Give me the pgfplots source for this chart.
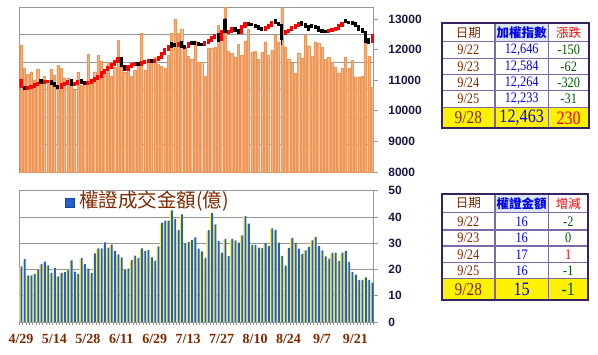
\documentclass[border=0pt]{standalone}
\usepackage{fontspec}
\setmainfont{Liberation Serif}
\setsansfont{Liberation Sans}
\newfontfamily\cjk{Noto Sans CJK TC}
\newfontfamily\narrowserif[FakeStretch=0.85]{Liberation Serif}
\usepackage{pgfplots}
\usepackage{pgfplotstable}
\pgfplotsset{compat=1.18}

\definecolor{barorange}{RGB}{246,178,122}
\definecolor{barorangeE}{RGB}{236,150,92}
\definecolor{wblue}{RGB}{35,95,205}
\definecolor{wyellow}{RGB}{250,240,90}
\definecolor{tbrown}{RGB}{128,40,0}
\definecolor{tnavy}{RGB}{25,25,70}
\definecolor{gridgray}{RGB}{150,150,150}
\definecolor{tblue}{RGB}{0,0,235}
\definecolor{tgreen}{RGB}{0,90,0}
\definecolor{hdrblue}{RGB}{218,230,245}
\definecolor{tborder}{RGB}{55,35,95}
\definecolor{tinner}{RGB}{125,105,165}

% top panel: market volume (hidden left scale)
\pgfplotstableread{
i v
0 2309
1 1896
2 1782
3 1824
4 1673
5 1873
6 1673
7 1745
8 1673
9 1873
10 1764
11 1940
12 1885
13 1715
14 1715
15 1642
16 1491
17 1818
18 1582
19 1612
20 2145
21 1612
22 1824
23 2127
24 2024
25 1806
26 1994
27 1745
28 1915
29 2400
30 1946
31 1824
32 1855
33 1745
34 1855
35 1976
36 2521
37 1855
38 2036
39 2048
40 2085
41 1964
42 1927
43 1885
44 2121
45 2521
46 2776
47 2521
48 2594
49 2279
50 2109
51 2048
52 2388
53 1994
54 1994
55 1745
56 2261
57 2261
58 2279
59 2673
60 2552
61 2990
62 2200
63 2158
64 2097
65 2321
66 2127
67 2388
68 2594
69 2176
70 2200
71 2055
72 2176
73 2370
74 2127
75 2218
76 2491
77 2370
78 2990
79 2279
80 2048
81 1988
82 1800
83 2170
84 2073
85 2491
86 2296
87 2115
88 2370
89 2339
90 2266
91 2048
92 2085
93 1994
94 1915
95 1806
96 1885
97 2085
98 1885
99 2036
100 1734
101 1734
102 1745
103 2339
104 2109
105 1539
}\vol

% index candles: rising days
\pgfplotstableread{
i o c
0 10790 11000
2 10730 10770
3 10770 10800
4 10800 10850
5 10850 10900
7 10920 10950
8 10950 10965
12 10760 10850
13 10850 10900
14 10900 10960
16 10850 10900
17 10900 10970
20 10880 10930
21 10930 11000
22 11000 11060
23 11060 11130
24 11130 11240
25 11240 11330
26 11330 11420
27 11420 11500
28 11500 11600
29 11600 11700
32 11330 11440
33 11440 11500
34 11500 11540
36 11520 11570
37 11570 11600
38 11600 11640
40 11600 11660
41 11660 11750
42 11750 11880
43 11880 12000
44 12000 12120
47 12130 12200
50 12100 12200
55 12150 12220
56 12220 12290
57 12290 12400
58 12400 12470
60 12320 12590
62 12540 12600
63 12600 12700
66 12560 12750
67 12750 12860
73 12660 12720
74 12720 12790
75 12790 12880
79 12530 12590
80 12590 12640
81 12640 12710
82 12710 12790
83 12790 12860
92 12580 12620
93 12620 12660
94 12660 12700
95 12700 12780
96 12780 12850
105 12260 12463
}\up

% index candles: falling days
\pgfplotstableread{
i o c
1 10770 10730
6 10990 10920
9 10950 10880
10 10880 10830
11 10790 10750
15 10980 10850
18 10990 10920
19 10930 10880
30 11720 11480
31 11450 11330
35 11560 11520
39 11660 11600
45 12200 12100
46 12160 12130
48 12230 12080
49 12100 12060
51 12220 12180
52 12230 12190
53 12190 12170
54 12170 12150
59 12500 12300
61 12940 12590
64 12700 12620
65 12620 12540
68 12870 12830
69 12830 12800
70 12800 12760
71 12760 12700
72 12700 12660
76 12940 12870
77 12870 12800
78 12800 12370
84 12880 12830
85 12830 12760
86 12760 12650
87 12780 12740
88 12760 12730
89 12730 12630
90 12630 12600
91 12610 12580
97 12960 12900
98 12900 12870
99 12880 12850
100 12850 12796
101 12760 12646
102 12650 12584
103 12560 12264
104 12330 12233
}\dn

% wicks (low, high)
\pgfplotstableread{
i lo hi
30 11460 11760
61 12560 13040
78 12150 12840
103 12200 12590
}\wick

% bottom panel: warrant turnover (100 million)
\pgfplotstableread{
i w
0 21.2
1 23.9
2 17.8
3 17.8
4 18.3
5 20.0
6 22.0
7 23.0
8 21.6
9 18.7
10 20.6
11 17.4
12 18.7
13 19.0
14 19.8
15 23.5
16 19.2
17 18.2
18 24.4
19 22.0
20 20.3
21 18.7
22 26.1
23 28.0
24 28.0
25 30.3
26 28.3
27 29.5
28 27.1
29 25.8
30 24.6
31 19.8
32 20.3
33 23.6
34 25.3
35 24.4
36 28.0
37 27.0
38 27.4
39 24.6
40 23.4
41 28.8
42 37.8
43 38.6
44 38.6
45 42.5
46 39.4
47 35.0
48 41.0
49 29.9
50 30.4
51 31.3
52 32.2
53 27.9
54 26.9
55 24.4
56 35.0
57 41.5
58 37.2
59 30.8
60 26.4
61 31.7
62 25.1
63 31.7
64 31.1
65 30.2
66 33.0
67 40.3
68 37.5
69 29.4
70 29.4
71 28.3
72 28.2
73 30.1
74 28.9
75 35.7
76 35.1
77 30.2
78 25.2
79 21.5
80 28.2
81 31.9
82 30.1
83 27.9
84 25.9
85 27.3
86 28.6
87 31.1
88 32.4
89 28.9
90 27.3
91 25.0
92 24.1
93 26.4
94 26.4
95 23.2
96 26.4
97 27.0
98 22.8
99 19.1
100 18.0
101 16.0
102 16.0
103 17.0
104 16.0
105 15.0
}\war

\pgfplotsset{
  panel/.style={
    scale only axis, width=354.5pt,
    xmin=-0.5, xmax=105.5,
    axis line style={gridgray, line width=0.9pt},
    grid style={gridgray, line width=0.9pt},
    scaled ticks=false,
    /pgf/number format/assume math mode=true,
    /pgf/number format/1000 sep={},
  },
  rlabels/.style={
    yticklabel style={font=\sffamily\bfseries\fontsize{12}{14}\selectfont, text=tnavy, anchor=west, xshift=7pt},
  },
}

\begin{document}
\begin{tikzpicture}[x=1pt,y=1pt]
\useasboundingbox (0,-354) rectangle (598,0);

% ---------- top panel: volume bars ----------
\begin{axis}[panel,
  at={(19.3pt,-172pt)}, anchor=south west, height=165pt,
  ymin=0, ymax=3000,
  xtick=\empty, ytick={500,1000,...,2500}, yticklabels={},
  major tick length=0pt,
  ymajorgrids,
]
\addplot[ybar, bar width=2.2pt, fill=barorange, draw=barorangeE, line width=0.2pt] table[x=i,y=v]{\vol};
\end{axis}

% ---------- top panel: index candles ----------
\begin{axis}[panel, rlabels,
  at={(19.3pt,-172pt)}, anchor=south west, height=165pt,
  ymin=8000, ymax=13390,
  axis x line=none, axis y line*=right,
  axis line style={draw=none},
  ytick={8000,9000,...,13000},
  tick align=outside, major tick length=4pt,
  tick style={gridgray, line width=0.8pt},
]
\addplot[black, line width=0.9pt, mark=none,
  quiver={u=0, v={\thisrow{hi}-\thisrow{lo}}}]
  table[x=i, y=lo]{\wick};
\addplot[black, line width=3.1pt, mark=none,
  quiver={u=0, v={\thisrow{c}-\thisrow{o}-90}}]
  table[x=i, y expr={\thisrow{o}+45}]{\dn};
\addplot[red, line width=3.1pt, mark=none,
  quiver={u=0, v={\thisrow{c}-\thisrow{o}+90}}]
  table[x=i, y expr={\thisrow{o}-45}]{\up};
\end{axis}

% ---------- bottom panel: warrant turnover ----------
\begin{axis}[panel, rlabels,
  at={(19.3pt,-322pt)}, anchor=south west, height=131.3pt,
  ymin=0, ymax=50,
  ytick={0,10,...,50}, ytick pos=right, yticklabel pos=right,
  xtick={0,10,...,100},
  xticklabels={4/29,5/14,5/28,6/11,6/29,7/13,7/27,8/10,8/24,9/7,9/21},
  minor xtick={-0.5,0.5,...,105.5},
  xtick pos=bottom,
  tick align=outside, major tick length=4pt, minor tick length=3pt,
  tick style={gridgray, line width=0.8pt},
  major x tick style={draw=none},
  xticklabel style={font=\bfseries\fontsize{14}{16}\selectfont, text=tbrown, yshift=-5pt},
  ymajorgrids,
]
\addplot[ybar, bar width=2.8pt, bar shift=-0.4pt, fill=wyellow, draw=none] table[x=i,y expr={\thisrow{w}-0.3}]{\war};
\addplot[ybar, bar width=1.8pt, bar shift=0.5pt, fill=wblue, draw=none] table[x=i,y=w]{\war};
\end{axis}

% legend of bottom panel
\fill[wblue] (65.5,-198.5) rectangle (74.5,-207.5);
\draw[wblue!70!black, line width=0.3pt] (65.5,-198.5) rectangle (74.5,-207.5);
\node[anchor=west, inner sep=0pt, text=tbrown, font=\cjk\fontsize{19.5}{21}\selectfont] at (79,-201.5) {權證成交金額(億)};

% ---------- top table ----------
\begin{scope}
\fill[hdrblue] (495,-23.3) rectangle (548.3,-41.7);
\fill[yellow] (441.7,-107.3) rectangle (589,-128.3);
\draw[tinner, line width=1.1pt] (441.7,-41.7) -- (589,-41.7)
  (441.7,-58.3) -- (589,-58.3) (441.7,-74.5) -- (589,-74.5)
  (441.7,-90.7) -- (589,-90.7) (441.7,-107.3) -- (589,-107.3)
  (495,-23.3) -- (495,-128.3) (548.3,-23.3) -- (548.3,-128.3);
\draw[tborder, line width=2pt] (441.7,-23.3) rectangle (589,-128.3);
\node[text=tbrown, font=\cjk\fontsize{12.5}{14}\selectfont] at (468.3,-32.5) {日期};
\node[text=tblue, font=\cjk\bfseries\fontsize{12.5}{14}\selectfont] at (521.7,-32.5) {加權指數};
\node[text=red, font=\cjk\fontsize{12.5}{14}\selectfont] at (568.7,-32.5) {漲跌};
\foreach \y/\d/\v/\c in {50/{9/22}/{12,646}/{-150}, 66.4/{9/23}/{12,584}/{-62}, 82.6/{9/24}/{12,264}/{-320}, 99/{9/25}/{12,233}/{-31}}{
  \node[text=tbrown, font=\narrowserif\fontsize{14.5}{16}\selectfont] at (468.3,-\y) {\d};
  \node[text=tblue, font=\narrowserif\fontsize{14.5}{16}\selectfont] at (521.7,-\y) {\v};
  \node[text=tgreen, font=\narrowserif\fontsize{14.5}{16}\selectfont] at (568.7,-\y) {\c};
}
\node[text=tbrown, font=\narrowserif\fontsize{18}{20}\selectfont] at (468.3,-117.8) {9/28};
\node[text=tblue, font=\narrowserif\fontsize{19}{21}\selectfont] at (521.7,-117.8) {12,463};
\node[text=red, font=\narrowserif\fontsize{19}{21}\selectfont] at (568.7,-117.8) {230};
\end{scope}

% ---------- bottom table ----------
\begin{scope}
\fill[hdrblue] (495,-194) rectangle (548.3,-212.7);
\fill[yellow] (441.7,-278.3) rectangle (588.3,-300);
\draw[tinner, line width=1.1pt] (441.7,-212.7) -- (588.3,-212.7)
  (441.7,-230) -- (588.3,-230) (441.7,-246) -- (588.3,-246)
  (441.7,-262.7) -- (588.3,-262.7) (441.7,-278.3) -- (588.3,-278.3)
  (495,-194) -- (495,-300) (548.3,-194) -- (548.3,-300);
\draw[tborder, line width=2pt] (441.7,-194) rectangle (588.3,-300);
\node[text=tbrown, font=\cjk\fontsize{12.5}{14}\selectfont] at (468.3,-203.3) {日期};
\node[text=tblue, font=\cjk\bfseries\fontsize{12.5}{14}\selectfont] at (521.7,-203.3) {權證金額};
\node[text=red, font=\cjk\fontsize{12.5}{14}\selectfont] at (568.3,-203.3) {增減};
\foreach \y/\d/\v/\c/\cc in {221.3/{9/22}/16/{-2}/tgreen, 238/{9/23}/16/0/tgreen, 254.3/{9/24}/17/1/red, 270.5/{9/25}/16/{-1}/tgreen}{
  \node[text=tbrown, font=\narrowserif\fontsize{14.5}{16}\selectfont] at (468.3,-\y) {\d};
  \node[text=tblue, font=\narrowserif\fontsize{14.5}{16}\selectfont] at (521.7,-\y) {\v};
  \node[text=\cc, font=\narrowserif\fontsize{14.5}{16}\selectfont] at (568.3,-\y) {\c};
}
\node[text=tbrown, font=\narrowserif\fontsize{18}{20}\selectfont] at (468.3,-289.2) {9/28};
\node[text=tblue, font=\narrowserif\fontsize{19}{21}\selectfont] at (521.7,-289.2) {15};
\node[text=tgreen, font=\narrowserif\fontsize{19}{21}\selectfont] at (568.3,-289.2) {-1};
\end{scope}
\end{tikzpicture}
\end{document}
